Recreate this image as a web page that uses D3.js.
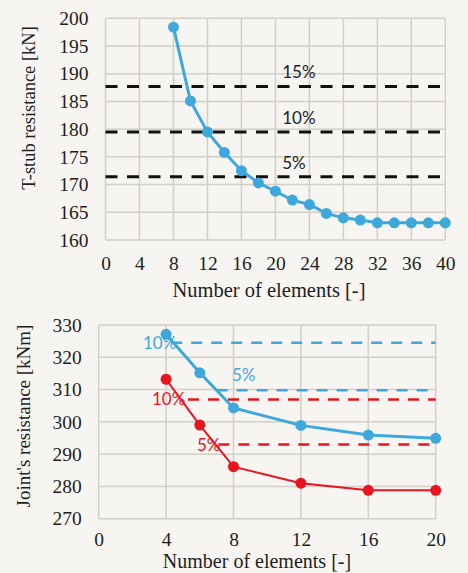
<!DOCTYPE html>
<html><head><meta charset="utf-8">
<script src="https://cdn.jsdelivr.net/npm/d3@7"></script>
<style>
html,body{margin:0;padding:0;background:#f7f5f1;}
svg{display:block;}
.serif{font-family:"Liberation Serif","Times New Roman",serif;}
.sans{font-family:Lato,"Open Sans",sans-serif;}
</style></head>
<body>
<svg id="c" width="468" height="573"></svg>
<script>
// ---- Top chart data: T-stub resistance vs number of elements
const topX = [8,10,12,14,16,18,20,22,24,26,28,30,32,34,36,38,40];
const topY = [198.4,185.1,179.5,175.8,172.5,170.3,168.8,167.2,166.4,164.8,164.0,163.6,163.1,163.1,163.1,163.1,163.1];
const topRefLevels = [187.7,179.5,171.4];
const topRefLabels = ["15%","10%","5%"];
const topXTicks = [0,4,8,12,16,20,24,28,32,36,40];
const topYTicks = [160,165,170,175,180,185,190,195,200];

// ---- Bottom chart data: Joint's resistance vs number of elements
const botX = [4,6,8,12,16,20];
const botBlue = [327.1,315.2,304.3,298.9,295.9,294.9];
const botRed = [313.2,299.0,286.1,281.0,278.8,278.8];
const blueRefLevels = [324.5,309.8];
const blueRefStart = [4.3,7.0];
const blueRefLabels = ["10%","5%"];
const redRefLevels = [306.9,293.0];
const redRefStart = [5.3,7.1];
const redRefLabels = ["10%","5%"];
const botXTicks = [0,4,8,12,16,20];
const botYTicks = [270,280,290,300,310,320,330];

const BLUE = "#3ea8dc", RED = "#e8141e", GRID = "#d2cec8", INK = "#1e1e1e";

const svg = d3.select("#c");

function panel(o){
  const g = svg.append("g");
  const x = d3.scaleLinear().domain(o.xd).range([o.l,o.r]);
  const y = d3.scaleLinear().domain(o.yd).range([o.b,o.t]);
  g.append("g").selectAll("line").data(o.xt).join("line")
    .attr("x1",d=>x(d)).attr("x2",d=>x(d)).attr("y1",o.t).attr("y2",o.b)
    .attr("stroke",GRID).attr("stroke-width",1.5);
  g.append("g").selectAll("line").data(o.yt).join("line")
    .attr("x1",o.l).attr("x2",o.r).attr("y1",d=>y(d)).attr("y2",d=>y(d))
    .attr("stroke",GRID).attr("stroke-width",1.5);
  const ax = g.append("g").attr("transform",`translate(0,${o.b})`)
    .call(d3.axisBottom(x).tickValues(o.xt).tickSize(0).tickPadding(o.xpad));
  const ay = g.append("g").attr("transform",`translate(${o.l},0)`)
    .call(d3.axisLeft(y).tickValues(o.yt).tickSize(0).tickPadding(o.ypad));
  [ax,ay].forEach(a=>{
    a.attr("font-family",null).attr("font-size",null);
    a.select(".domain").remove();
    a.selectAll("text").attr("class","serif").style("font-size","19.5px").attr("fill",INK);
  });
  g.append("text").attr("class","serif").attr("x",o.xtx).attr("y",o.xty).attr("text-anchor","middle")
    .style("font-size",o.xfs+"px").attr("fill",INK).text(o.xtitle);
  g.append("text").attr("class","serif").attr("transform",`translate(${o.ytx},${o.yty}) rotate(-90)`)
    .attr("text-anchor","middle").attr("dominant-baseline","central")
    .style("font-size",o.yfs+"px").attr("fill",INK).text(o.ytitle);
  return {g,x,y};
}

// ---------- TOP ----------
const T = panel({xd:[0,40],yd:[160,200],l:105.5,r:445.3,t:18.3,b:240,xt:topXTicks,yt:topYTicks,
  xpad:16,ypad:17,xtitle:"Number of elements [-]",xtx:269,xty:297,xfs:20.5,
  ytitle:"T-stub resistance [kN]",ytx:29,yty:108,yfs:18.5});
T.g.append("g").selectAll("line").data(topRefLevels).join("line")
  .attr("x1",T.x(0)).attr("x2",T.x(40)).attr("y1",d=>T.y(d)).attr("y2",d=>T.y(d))
  .attr("stroke","#111").attr("stroke-width",3).attr("stroke-dasharray","12,9.5");
T.g.append("g").selectAll("text").data(topRefLevels).join("text")
  .attr("class","sans").attr("x",T.x(20.8)).attr("y",(d,i)=>T.y(d)-8)
  .style("font-size","17px").attr("fill","#222")
  .text((d,i)=>topRefLabels[i]);
const topPts = topX.map((v,i)=>[v,topY[i]]);
T.g.append("path").datum(topPts)
  .attr("d",d3.line().x(d=>T.x(d[0])).y(d=>T.y(d[1])))
  .attr("fill","none").attr("stroke",BLUE).attr("stroke-width",3);
T.g.append("g").selectAll("circle").data(topPts).join("circle")
  .attr("cx",d=>T.x(d[0])).attr("cy",d=>T.y(d[1])).attr("r",5.5).attr("fill",BLUE);

// ---------- BOTTOM ----------
const B = panel({xd:[0,20],yd:[270,330],l:98.7,r:435.7,t:325,b:518.7,xt:botXTicks,yt:botYTicks,
  xpad:13,ypad:17,xtitle:"Number of elements [-]",xtx:257,xty:568,xfs:20,
  ytitle:"Joint's resistance [kNm]",ytx:23,yty:416,yfs:19});
function refs(levels,starts,labels,color,lx,ly){
  B.g.append("g").selectAll("line").data(levels).join("line")
    .attr("x1",(d,i)=>B.x(starts[i])).attr("x2",B.x(20))
    .attr("y1",d=>B.y(d)).attr("y2",d=>B.y(d))
    .attr("stroke",color).attr("stroke-width",2.5).attr("stroke-dasharray","11,9");
  B.g.append("g").selectAll("text").data(levels).join("text")
    .attr("class","sans").attr("x",(d,i)=>lx[i]).attr("y",(d,i)=>ly[i])
    .style("font-size","17px").attr("fill",color)
    .text((d,i)=>labels[i]);
}
refs(blueRefLevels,blueRefStart,blueRefLabels,BLUE,[143,232],[349,381]);
refs(redRefLevels,redRefStart,redRefLabels,RED,[152,197],[405,451]);
function series(vals,color,w){
  const pts = botX.map((v,i)=>[v,vals[i]]);
  B.g.append("path").datum(pts)
    .attr("d",d3.line().x(d=>B.x(d[0])).y(d=>B.y(d[1])))
    .attr("fill","none").attr("stroke",color).attr("stroke-width",w);
  B.g.append("g").selectAll("circle").data(pts).join("circle")
    .attr("cx",d=>B.x(d[0])).attr("cy",d=>B.y(d[1])).attr("r",5.5).attr("fill",color);
}
series(botBlue,BLUE,3);
series(botRed,RED,2);
</script>
</body></html>
